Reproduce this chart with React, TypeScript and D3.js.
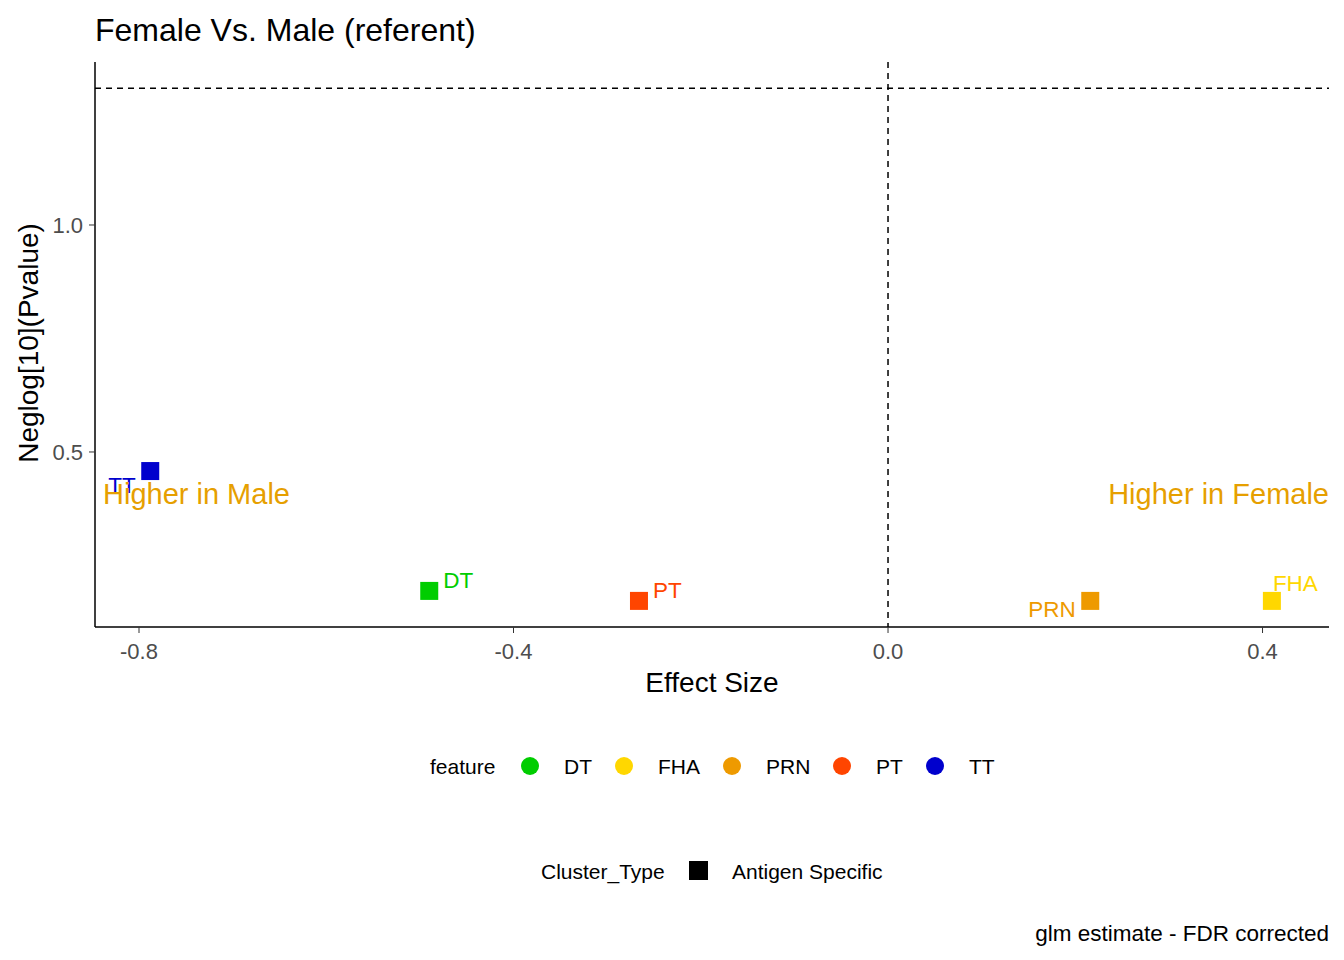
import * as d3 from "d3";

const features = ["DT", "FHA", "PRN", "PT", "TT"];
const featureColors = ["#00CD00", "#FFD700", "#EE9A00", "#FF4500", "#0000CD"];
const effect = [-0.49, 0.41, 0.216, -0.266, -0.788];
const neglogP = [0.194, 0.172, 0.172, 0.172, 0.458];
const labelDx = [14, 1, -62, 14, -42];
const labelDy = [-3, -10, 16, -3, 22];
const xTicks = [-0.8, -0.4, 0.0, 0.4];
const yTicks = [0.5, 1.0];
const threshold = 1.301;

export default function App() {
  const W = 1344, H = 960;
  const L = 95, R = 1329, T = 62, B = 627;
  const x = d3.scaleLinear().domain([-0.847, 0.471]).range([L, R]);
  const y = d3.scaleLinear().domain([0.1145, 1.359]).range([B, T]);
  const font = "Arial, 'Liberation Sans', sans-serif";
  const legendX = [530, 624, 732, 842, 935];
  return (
    <svg width={W} height={H} style={{ position: "absolute", left: 0, top: 0, fontFamily: font }}>
      <rect width={W} height={H} fill="white" />
      <text x={L} y={41} fontSize={32}>Female Vs. Male (referent)</text>
      <line x1={L} x2={R} y1={y(threshold)} y2={y(threshold)} stroke="black" strokeDasharray="6,5" strokeWidth={1.5} />
      <line x1={x(0)} x2={x(0)} y1={T} y2={B} stroke="black" strokeDasharray="6,5" strokeWidth={1.5} />
      <line x1={L} x2={L} y1={T} y2={B} stroke="black" strokeWidth={1.5} />
      <line x1={L} x2={R} y1={B} y2={B} stroke="black" strokeWidth={1.5} />
      {xTicks.map(t => (
        <g key={t}>
          <line x1={x(t)} x2={x(t)} y1={B} y2={B + 6} stroke="#333" />
          <text x={x(t)} y={B + 32} fontSize={22} fill="#4d4d4d" textAnchor="middle">{t.toFixed(1)}</text>
        </g>
      ))}
      {yTicks.map(t => (
        <g key={t}>
          <line x1={L - 6} x2={L} y1={y(t)} y2={y(t)} stroke="#333" />
          <text x={L - 12} y={y(t) + 8} fontSize={22} fill="#4d4d4d" textAnchor="end">{t.toFixed(1)}</text>
        </g>
      ))}
      <text x={712} y={692} fontSize={28} textAnchor="middle">Effect Size</text>
      <text transform={`translate(38,343) rotate(-90)`} fontSize={28} textAnchor="middle">Neglog[10](Pvalue)</text>
      {features.map((f, i) => (
        <g key={f}>
          <rect x={x(effect[i]) - 9} y={y(neglogP[i]) - 9} width={18} height={18} fill={featureColors[i]} />
          <text x={x(effect[i]) + labelDx[i]} y={y(neglogP[i]) + labelDy[i]} fontSize={22.5} fill={featureColors[i]}>{f}</text>
        </g>
      ))}
      <text x={103} y={504} fontSize={29} fill="#E69F00">Higher in Male</text>
      <text x={R} y={504} fontSize={29} fill="#E69F00" textAnchor="end">Higher in Female</text>
      <text x={430} y={774} fontSize={21}>feature</text>
      {features.map((f, i) => (
        <g key={f}>
          <circle cx={legendX[i]} cy={766} r={9} fill={featureColors[i]} />
          <text x={legendX[i] + 34} y={774} fontSize={21}>{f}</text>
        </g>
      ))}
      <text x={541} y={879} fontSize={21}>Cluster_Type</text>
      <rect x={689} y={861} width={19} height={19} fill="black" />
      <text x={732} y={879} fontSize={21}>Antigen Specific</text>
      <text x={R} y={941} fontSize={22.5} textAnchor="end">glm estimate - FDR corrected</text>
    </svg>
  );
}
